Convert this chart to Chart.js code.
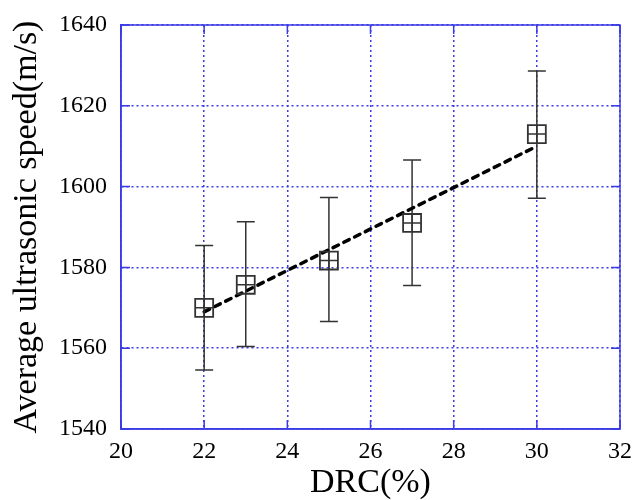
<!DOCTYPE html>
<html>
<head>
<meta charset="utf-8">
<script src="https://cdn.jsdelivr.net/npm/chart.js@4.4.0/dist/chart.umd.min.js"></script>
<style>
html,body{margin:0;padding:0;background:#fff;}
#wrap{width:643px;height:500px;position:relative;}
</style>
</head>
<body>
<div id="wrap"><canvas id="c"></canvas></div>
<script>
// Data
const drc = [22, 23, 25, 27, 30];
const speed = [1570, 1575.7, 1581.7, 1591, 1613];
const speedUpper = [1585.4, 1591.3, 1597.3, 1606.6, 1628.6];
const speedLower = [1554.6, 1560.4, 1566.6, 1575.5, 1597.1];
const trendX = [22, 30];
const trendY = [1569, 1610];
const xTicks = [20, 22, 24, 26, 28, 30, 32];
const yTicks = [1540, 1560, 1580, 1600, 1620, 1640];

const gridBlue = '#3a3ae8';
const font = "'Liberation Serif', 'Times New Roman', serif";

const points = drc.map((x, i) => ({x: x, y: speed[i]}));
const trend = trendX.map((x, i) => ({x: x, y: trendY[i]}));

const errorBars = {
  id: 'errorBars',
  beforeDatasetsDraw(chart) {
    const {ctx, scales: {x, y}} = chart;
    ctx.save();
    ctx.strokeStyle = '#333';
    ctx.lineWidth = 1.5;
    drc.forEach((v, i) => {
      const px = x.getPixelForValue(v);
      const top = y.getPixelForValue(speedUpper[i]);
      const bot = y.getPixelForValue(speedLower[i]);
      ctx.beginPath();
      ctx.moveTo(px, top); ctx.lineTo(px, bot);
      ctx.moveTo(px - 9, top); ctx.lineTo(px + 9, top);
      ctx.moveTo(px - 9, bot); ctx.lineTo(px + 9, bot);
      ctx.stroke();
    });
    ctx.restore();
  }
};

const frame = {
  id: 'frame',
  afterDraw(chart) {
    const {ctx, chartArea: a, scales: {x, y}} = chart;
    ctx.save();
    ctx.strokeStyle = gridBlue;
    ctx.lineWidth = 1.5;
    ctx.strokeRect(a.left, a.top, a.right - a.left, a.bottom - a.top);
    ctx.beginPath();
    const L = 9;
    yTicks.forEach(v => {
      const py = y.getPixelForValue(v);
      ctx.moveTo(a.left, py); ctx.lineTo(a.left + L, py);
      ctx.moveTo(a.right, py); ctx.lineTo(a.right - L, py);
    });
    xTicks.forEach(v => {
      const px = x.getPixelForValue(v);
      ctx.moveTo(px, a.bottom); ctx.lineTo(px, a.bottom - L);
      ctx.moveTo(px, a.top); ctx.lineTo(px, a.top + L);
    });
    ctx.stroke();
    ctx.restore();
  }
};

new Chart(document.getElementById('c'), {
  type: 'scatter',
  data: {
    datasets: [
      {
        type: 'line',
        data: trend,
        borderColor: '#000',
        borderWidth: 3.5,
        borderDash: [6, 6],
        borderCapStyle: 'round',
        pointRadius: 0,
        fill: false,
        order: 3
      },
      {
        data: points,
        pointStyle: 'rect',
        pointRadius: 12.7,
        pointBorderColor: '#333',
        pointBackgroundColor: 'rgba(255,255,255,0)',
        pointBorderWidth: 1.8,
        order: 1
      },
      {
        data: points,
        pointStyle: 'cross',
        pointRadius: 9,
        pointBorderColor: '#333',
        pointBorderWidth: 1.5,
        order: 2
      }
    ]
  },
  options: {
    responsive: true,
    maintainAspectRatio: false,
    animation: false,
    layout: {padding: {top: 25, right: 23, left: 0, bottom: 0}},
    plugins: {legend: {display: false}, tooltip: {enabled: false}},
    scales: {
      x: {
        type: 'linear',
        min: 20, max: 32,
        afterBuildTicks(s) { s.ticks = xTicks.map(v => ({value: v})); },
        afterFit(s) { s.height = 71; s.paddingLeft = 0; s.paddingRight = 0; },
        ticks: {color: '#000', font: {family: font, size: 24}, padding: 8, callback: v => String(v)},
        grid: {color: gridBlue, lineWidth: 1.5, drawTicks: false},
        border: {display: true, color: gridBlue, width: 1.5, dash: [2, 3]},
        title: {display: true, text: 'DRC(%)', color: '#000', font: {family: font, size: 34, lineHeight: 1.2}, padding: {top: 0, bottom: -3}}
      },
      y: {
        type: 'linear',
        min: 1540, max: 1640,
        afterBuildTicks(s) { s.ticks = yTicks.map(v => ({value: v})); },
        afterFit(s) { s.width = 121; s.paddingTop = 0; s.paddingBottom = 0; },
        ticks: {color: '#000', font: {family: font, size: 24}, padding: 14, callback: v => String(v)},
        grid: {color: gridBlue, lineWidth: 1.5, drawTicks: false},
        border: {display: true, color: gridBlue, width: 1.5, dash: [2, 3]},
        title: {display: true, text: 'Average ultrasonic speed(m/s)', color: '#000', font: {family: font, size: 34, lineHeight: 1.2}, padding: {top: 7, bottom: 0}}
      }
    }
  },
  plugins: [errorBars, frame]
});
</script>
</body>
</html>
